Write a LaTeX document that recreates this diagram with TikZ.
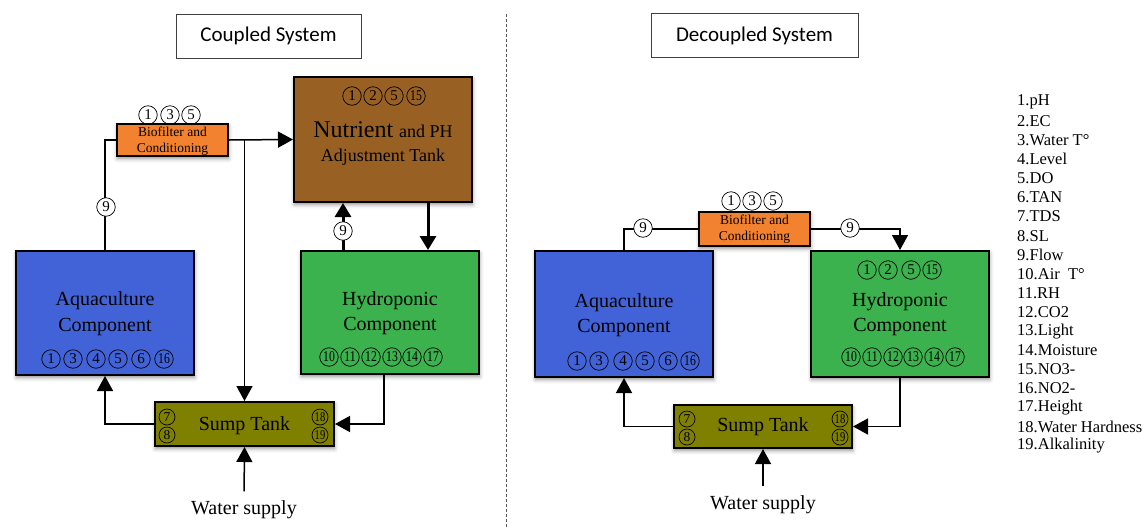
\documentclass[tikz,border=0pt]{standalone}
\usepackage{fontspec}
\usepackage{graphicx}
\setmainfont{Liberation Serif}
\newfontfamily\titlefont{Carlito}
\usetikzlibrary{arrows.meta,shadows.blur}

\definecolor{nutbrown}{RGB}{153,96,36}
\definecolor{bioorange}{RGB}{242,130,48}
\definecolor{aquablue}{RGB}{66,99,216}
\definecolor{hydgreen}{RGB}{59,178,77}
\definecolor{sumpolive}{RGB}{128,128,0}

% two-digit sensor numbers are squeezed to fit their circle
\newcommand\cnum[1]{\ifnum#1>9 \scalebox{0.78}[1]{#1}\else #1\fi}

\begin{document}
\begin{tikzpicture}[x=1pt,y=-1pt,
  box/.style={draw=black, line width=2pt, inner sep=0pt,
    blur shadow={shadow xshift=0.5pt, shadow yshift=-2.5pt,
      shadow blur radius=4pt, shadow opacity=45}},
  titlebox/.style={draw=black!75, line width=1pt, inner sep=0pt,
    font=\titlefont\fontsize{21}{21}\selectfont},
  boxlabel/.style={font=\fontsize{20}{20}\selectfont},
  biotext/.style={font=\fontsize{13.5}{16}\selectfont, align=center},
  num/.style={circle, draw=black, line width=0.7pt, minimum size=18.5pt,
    inner sep=0pt, font=\fontsize{15}{15}\selectfont},
  smallnum/.style={num, minimum size=16pt, font=\fontsize{13.5}{13.5}\selectfont},
  flow/.style={num, fill=white},
  conn/.style={line width=1.5pt},
  arr/.style={conn, -{Triangle[length=15pt,width=16pt]}},
  thickarr/.style={line width=3pt, -{Triangle[length=14pt,width=16pt]}},
  legend/.style={anchor=west, font=\fontsize{16.5}{16.5}\selectfont, inner sep=0pt}
]
\useasboundingbox (0,0) rectangle (1148,528);

% ---------------- divider ----------------
\coordinate (dtop) at (506,14);
\coordinate (dbot) at (506,528);
\draw[black!65, line width=0.8pt, dash pattern=on 3pt off 2pt] (dtop) -- (dbot);

% ---------------- titles ----------------
\node[titlebox, minimum width=185pt, minimum height=44pt] (tL) at (268.5,36) {Coupled System};
\node[titlebox, minimum width=207pt, minimum height=44pt] (tR) at (754.5,35.5) {Decoupled System};

% ================= coupled system =================
\node[box, fill=nutbrown, minimum width=178pt, minimum height=125pt] (nutL) at (383,139.5) {};
\node[font=\fontsize{24}{24}\selectfont] (nutLa) at (383,130) {Nutrient {\fontsize{18}{18}\selectfont and PH}};
\node[font=\fontsize{18}{18}\selectfont] (nutLb) at (383,157) {Adjustment Tank};
\foreach \n/\x [count=\i] in {1/352,2/373,5/394,15/416}
  \node[num] (nnL\i) at (\x,96) {\cnum{\n}};

\node[box, fill=bioorange, minimum width=111pt, minimum height=32pt] (bioL) at (172.5,140) {};
\node[biotext] (bioLt) at (172.5,141) {Biofilter and\\Conditioning};
\foreach \n/\x [count=\i] in {1/148,3/170,5/191}
  \node[num] (bnL\i) at (\x,115) {\n};

\node[box, fill=aquablue, minimum width=178pt, minimum height=124pt] (aquaL) at (105,313) {};
\node[boxlabel] (aquaLa) at (105,301) {Aquaculture};
\node[boxlabel] (aquaLb) at (105,327) {Component};
\foreach \n/\x [count=\i] in {1/51,3/73,4/96,5/118,6/141,16/164}
  \node[num] (anL\i) at (\x,359) {\cnum{\n}};

\node[box, fill=hydgreen, minimum width=178pt, minimum height=123pt] (hydL) at (390,312.5) {};
\node[boxlabel] (hydLa) at (390,301) {Hydroponic};
\node[boxlabel] (hydLb) at (390,326) {Component};
\foreach \n/\x [count=\i] in {10/329,11/350,12/371,13/392,14/412,17/433}
  \node[num] (hnL\i) at (\x,357) {\cnum{\n}};

\node[box, fill=sumpolive, minimum width=179pt, minimum height=44pt] (sumpL) at (244.5,424) {};
\node[boxlabel] (sumpLt) at (244.5,426) {Sump Tank};
\node[smallnum] (snL7) at (167,417) {7};
\node[smallnum] (snL8) at (167,435) {8};
\node[smallnum] (snL18) at (320,417) {\cnum{18}};
\node[smallnum] (snL19) at (320,435) {\cnum{19}};

\node[boxlabel] (wsL) at (244,510) {Water supply};

% connectors of the coupled system
\coordinate (upL) at (343,0);
\coordinate (dnL) at (428,0);
\coordinate (rtL) at (384,0);
\draw[conn] (bioL.west) -| (aquaL.north);
\node[flow] (fL1) at (106,207) {9};
\draw[arr] (bioL.east) -- (nutL.west);
\draw[arr] (sumpL.north |- bioL.east) -- (sumpL.north);
\draw[thickarr] (upL |- hydL.north) -- (upL |- nutL.south);
\node[flow] (fL2) at (343,231) {9};
\draw[thickarr] (dnL |- nutL.south) -- (dnL |- hydL.north);
\draw[arr] (sumpL.west) -| (aquaL.south);
\draw[arr] (rtL |- hydL.south) |- (sumpL.east);
\draw[arr, shorten <=6pt] (wsL.north) -- (sumpL.south);

% ================= decoupled system =================
\node[box, fill=bioorange, minimum width=111pt, minimum height=34pt] (bioR) at (754.5,229) {};
\node[biotext] (bioRt) at (754.5,229.5) {Biofilter and\\Conditioning};
\foreach \n/\x [count=\i] in {1/731,3/752,5/773}
  \node[num] (bnR\i) at (\x,201) {\n};

\node[box, fill=aquablue, minimum width=178pt, minimum height=126pt] (aquaR) at (624,314) {};
\node[boxlabel] (aquaRa) at (624,303) {Aquaculture};
\node[boxlabel] (aquaRb) at (624,328) {Component};
\foreach \n/\x [count=\i] in {1/577,3/599,4/623,5/645,6/668,16/690}
  \node[num] (anR\i) at (\x,361) {\cnum{\n}};

\node[box, fill=hydgreen, minimum width=178pt, minimum height=126pt] (hydR) at (900,314) {};
\node[boxlabel] (hydRa) at (900,302) {Hydroponic};
\node[boxlabel] (hydRb) at (900,327) {Component};
\foreach \n/\x [count=\i] in {1/867,2/888,5/911,15/932}
  \node[num] (nnR\i) at (\x,270) {\cnum{\n}};
\foreach \n/\x [count=\i] in {10/851,11/872,12/893,13/913,14/934,17/955}
  \node[num] (hnR\i) at (\x,357) {\cnum{\n}};

\node[box, fill=sumpolive, minimum width=178pt, minimum height=43pt] (sumpR) at (763,426.5) {};
\node[boxlabel] (sumpRt) at (763,427) {Sump Tank};
\node[smallnum] (snR7) at (687,419) {7};
\node[smallnum] (snR8) at (687,437) {8};
\node[smallnum] (snR18) at (840,419) {\cnum{18}};
\node[smallnum] (snR19) at (840,437) {\cnum{19}};

\node[boxlabel] (wsR) at (763,505) {Water supply};

% connectors of the decoupled system
\draw[conn] (bioR.west) -| (aquaR.north);
\node[flow] (fR1) at (643,228) {9};
\draw[arr] (bioR.east) -| (hydR.north);
\node[flow] (fR2) at (850,228) {9};
\draw[arr] (sumpR.west) -| (aquaR.south);
\draw[arr] (hydR.south) |- (sumpR.east);
\draw[arr, shorten <=6pt] (wsR.north) -- (sumpR.south);

% ================= sensor legend =================
\foreach \t [count=\i] in {pH,EC,Water T°,Level,DO,TAN,TDS,SL,Flow,Air\ \ T°,RH,CO2,Light,Moisture,NO3-,NO2-,Height,Water Hardness,Alkalinity}
  \node[legend] (leg\i) at (1017,{102+19.1*(\i-1)}) {\i.\t};

\end{tikzpicture}
\end{document}
